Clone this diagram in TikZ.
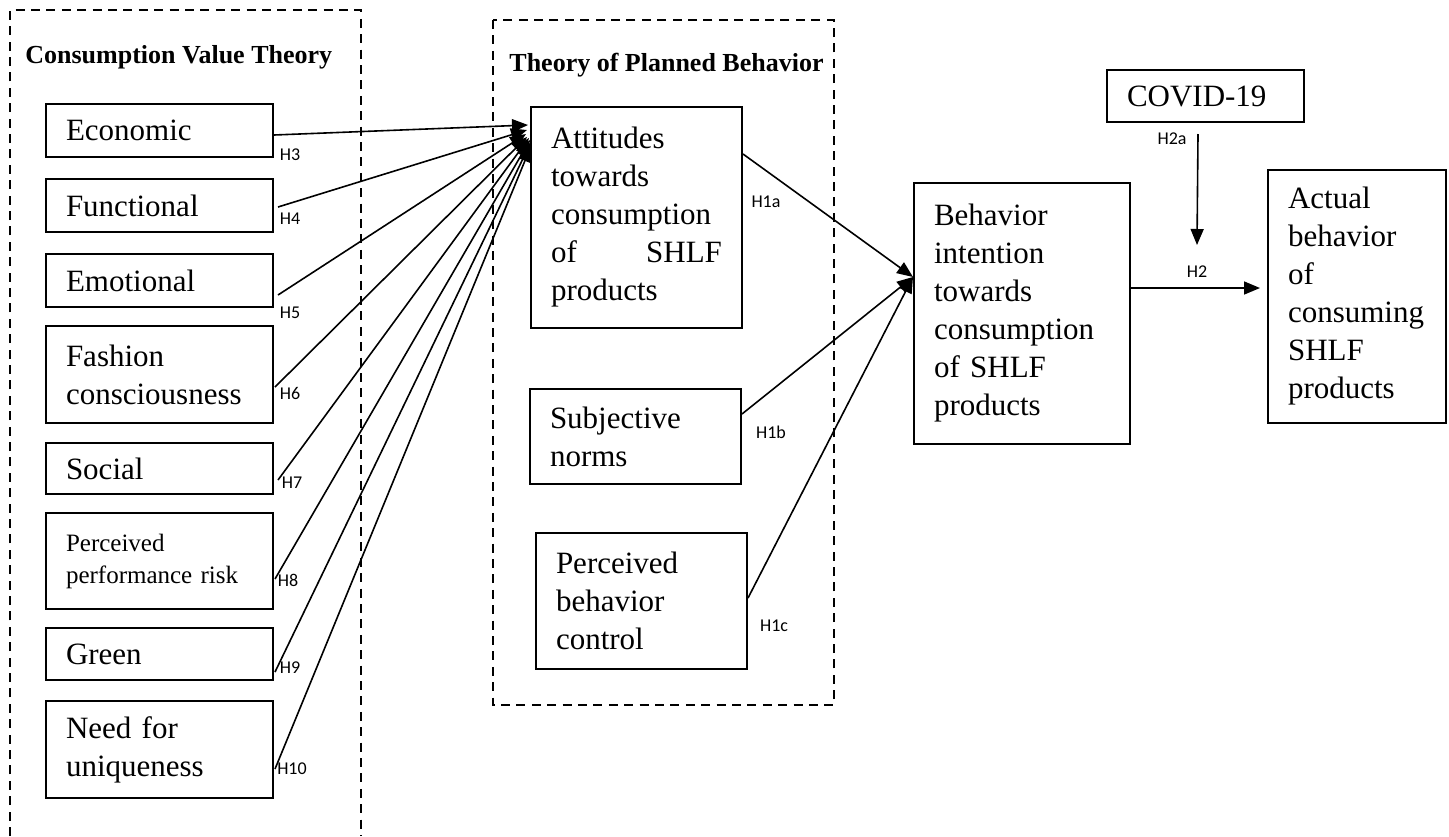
\documentclass[tikz,border=0pt]{standalone}
\usepackage{fontspec}
\setmainfont{Liberation Serif}
\newfontfamily\hypfont{Carlito}
\usetikzlibrary{arrows.meta}

\begin{document}
\begin{tikzpicture}[x=0.5pt, y=-0.5pt,
    cbox/.style={draw, line width=1pt, anchor=north west, align=left,
        inner xsep=10pt, inner ysep=2pt, font=\fontsize{15.5}{19}\selectfont},
    hyp/.style={inner sep=0pt, font=\hypfont\fontsize{9}{10}\selectfont},
    theory/.style={anchor=base west, inner sep=0pt, font=\bfseries\fontsize{13}{15}\selectfont},
    frame/.style={line width=1.4pt, dash pattern=on 4.5pt off 3.2pt},
    link/.style={line width=0.8pt, -{Triangle[length=8pt,width=6.5pt]}}]

    \useasboundingbox (0,0) rectangle (1449,836);

    % Dashed frames of the two theories
    \draw[frame] (10,836) -- (10,10) -- (361,10) -- (361,836);
    \draw[frame] (493,20) rectangle (834,705);
    \node[theory] (cvt) at (25,63) {Consumption Value Theory};
    \node[theory] (tpb) at (509,71) {Theory of Planned Behavior};

    % Consumption values
    \node[cbox, text width=93.5pt, minimum height=26.5pt] (econ) at (45,103) {Economic};
    \node[cbox, text width=93.5pt, minimum height=26.5pt] (func) at (45,178) {Functional};
    \node[cbox, text width=93.5pt, minimum height=26.5pt] (emo) at (45,253) {Emotional};
    \node[cbox, text width=93.5pt, minimum height=48.5pt] (fash) at (45,325) {Fashion\\consciousness};
    \node[cbox, text width=93.5pt, minimum height=25.5pt] (soc) at (45,442) {Social};
    \node[cbox, text width=93.5pt, minimum height=48pt,
        font=\fontsize{12.5}{16}\selectfont] (risk) at (45,512) {Perceived\\performance risk};
    \node[cbox, text width=93.5pt, minimum height=26pt] (green) at (45,627) {Green};
    \node[cbox, text width=93.5pt, minimum height=48.5pt] (uniq) at (45,700) {Need for\\uniqueness};

    % TPB constructs
    \node[cbox, text width=85.5pt, minimum height=110.5pt] (att) at (530,106)
        {Attitudes\\towards\\consumption\\of\hfill SHLF\\products};
    \node[cbox, text width=85.5pt, minimum height=47.5pt] (sn) at (529,388) {Subjective\\norms};
    \node[cbox, text width=85.5pt, minimum height=68pt] (pbc) at (535,532)
        {Perceived\\behavior\\control};

    \node[cbox, text width=88pt, minimum height=130.5pt] (bi) at (913,182)
        {Behavior\\intention\\towards\\consumption\\of SHLF\\products};
    \node[cbox, text width=69pt, minimum height=126.5pt] (act) at (1267,169)
        {Actual\\behavior\\of\\consuming\\SHLF\\products};
    \node[cbox, text width=78.5pt, minimum height=26pt] (covid) at (1106,69) {COVID-19};

    % Value -> attitude paths
    \foreach \src/\sx/\sy/\ex/\ey in {econ/0/11.5/-1/9.5, func/2/13/-1.5/12,
        emo/2/6.5/-2/14, fash/0.5/18.5/-1.5/15.5, soc/2/7.5/-0.5/16,
        risk/0.5/15.5/0/17, green/0.5/4.5/0.5/18, uniq/0.5/15/0.5/20}
        \draw[link] ([xshift=\sx pt, yshift=\sy pt]\src.south east)
            -- ([xshift=\ex pt, yshift=-\ey pt]att.north west);

    % TPB -> intention
    \draw[link] ([yshift=-24pt]att.north east) -- ([yshift=-47.5pt]bi.north west);
    \draw[link] ([yshift=-13pt]sn.north east) -- ([yshift=-47.5pt]bi.north west);
    \draw[link] ([yshift=-33pt]pbc.north east) -- ([yshift=-47.5pt]bi.north west);

    % Intention -> behaviour, moderated by COVID-19
    \draw[link, shorten >=3.5pt] ([yshift=-53pt]bi.north east)
        -- ([yshift=-53pt]bi.north east -| act.west);
    \coordinate (mod) at (1197,245);
    \draw[link] ([xshift=-3.75pt, yshift=-5.5pt]covid.south) -- (mod);

    % Hypothesis labels
    \node[hyp] (h3) at (290,155) {H3};
    \node[hyp] (h4) at (290,219) {H4};
    \node[hyp] (h5) at (290,313) {H5};
    \node[hyp] (h6) at (290,393) {H6};
    \node[hyp] (h7) at (292,483) {H7};
    \node[hyp] (h8) at (288,580) {H8};
    \node[hyp] (h9) at (290,668) {H9};
    \node[hyp] (h10) at (292,769) {H10};
    \node[hyp] (h1a) at (766,202) {H1a};
    \node[hyp] (h1b) at (771,432) {H1b};
    \node[hyp] (h1c) at (774,626) {H1c};
    \node[hyp] (h2a) at (1172,139) {H2a};
    \node[hyp] (h2) at (1197,272) {H2};

\end{tikzpicture}
\end{document}
